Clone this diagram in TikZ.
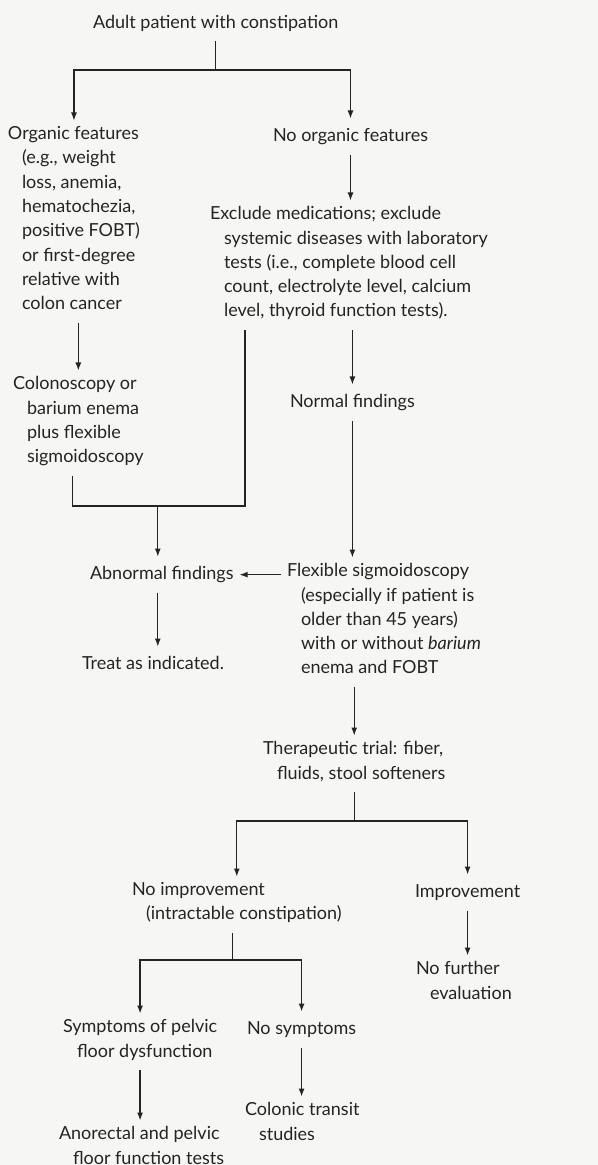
\documentclass[tikz,border=0pt]{standalone}
\usepackage{fontspec}
\setmainfont{Lato}
\usetikzlibrary{arrows.meta}
\definecolor{ink}{rgb}{0.14,0.14,0.14}
\definecolor{paper}{rgb}{0.965,0.965,0.955}
\newcommand{\ind}{\hspace*{7pt}}

\begin{document}
\begin{tikzpicture}[x=0.5pt,y=-0.5pt,color=ink,line width=0.6pt,
  >={Latex[length=4pt,width=3pt]},
  every node/.style={anchor=north west,align=left,inner sep=0pt,outer sep=3pt,
    font=\fontsize{9}{12.15}\selectfont,execute at begin node=\strut}]
\fill[paper] (0,0) rectangle (598,1165);
\useasboundingbox (0,0) rectangle (598,1165);
\path node (adult) at (87,5) {Adult patient with constipation}
node (org) at (2,120.5) {Organic features\\\ind (e.g., weight\\\ind loss, anemia,\\\ind hematochezia,\\\ind positive FOBT)\\\ind or first-degree\\\ind relative with\\\ind colon cancer}
node (noorg) at (267,118.5) {No organic features}
node (excl) at (204,200.5) {Exclude medications; exclude\\\ind systemic diseases with laboratory\\\ind tests (i.e., complete blood cell\\\ind count, electrolyte level, calcium\\\ind level, thyroid function tests).}
node (colo) at (7,370.5) {Colonoscopy or\\\ind barium enema\\\ind plus flexible\\\ind sigmoidoscopy}
node (normal) at (284,384.5) {Normal findings}
node (abn) at (84,556.5) {Abnormal findings}
node (flex) at (281,557.5) {Flexible sigmoidoscopy\\\ind (especially if patient is\\\ind older than 45 years)\\\ind with or without \textit{barium}\\\ind enema and FOBT}
node (treat) at (76,646.5) {Treat as indicated.}
node (ther) at (257,735.5) {Therapeutic trial: fiber,\\\ind fluids, stool softeners}
node (noimp) at (126,876.5) {No improvement\\\ind (intractable constipation)}
node (imp) at (409,874.5) {Improvement}
node (nofurther) at (410,955.5) {No further\\\ind evaluation}
node (sympt) at (57,1013.5) {Symptoms of pelvic\\\ind floor dysfunction}
node (nosympt) at (241,1011.5) {No symptoms}
node (anorectal) at (53,1120.5) {Anorectal and pelvic\\\ind floor function tests}
node (colonic) at (239,1096.5) {Colonic transit\\\ind studies}
;
\coordinate (s1) at (0,70);
\coordinate (s2) at (0,506);
\coordinate (s3) at (0,821);
\coordinate (s4) at (0,960);
\coordinate (b1) at (245,0);
\draw (adult.south) -- (adult.south |- s1);
\draw[->] (adult.south |- s1) -| (org.north);
\draw[->] (adult.south |- s1) -| (noorg.north);
\draw[->] (noorg.south) -- (noorg.south |- excl.north);
\draw[->] (colo.north |- org.south) -- (colo.north);
\draw[->] (normal.north |- excl.south) -- (normal.north);
\draw[->] (normal.south) -- (normal.south |- flex.north);
\draw ([xshift=-3pt]colo.south) |- (b1 |- s2) -- (b1 |- excl.south);
\draw[->] ([xshift=-2pt]abn.north |- s2) -- ([xshift=-2pt]abn.north);
\draw[->] (flex.west |- abn.east) -- (abn.east);
\draw[->] ([xshift=-2pt]abn.south) -- ([xshift=-2pt]abn.south |- treat.north);
\draw[->] (ther.north |- flex.south) -- (ther.north);
\draw (ther.south) -- (ther.south |- s3);
\draw[->] (ther.south |- s3) -| (noimp.north);
\draw[->] (ther.south |- s3) -| (imp.north);
\draw[->] (imp.south) -- (imp.south |- nofurther.north);
\draw ([xshift=-2pt]noimp.south) -- ([xshift=-2pt]noimp.south |- s4);
\draw[->] ([xshift=-2pt]noimp.south |- s4) -| (sympt.north);
\draw[->] ([xshift=-2pt]noimp.south |- s4) -| (nosympt.north);
\draw[->] (sympt.south) -- (sympt.south |- anorectal.north);
\draw[->] (nosympt.south) -- (nosympt.south |- colonic.north);
\end{tikzpicture}
\end{document}
